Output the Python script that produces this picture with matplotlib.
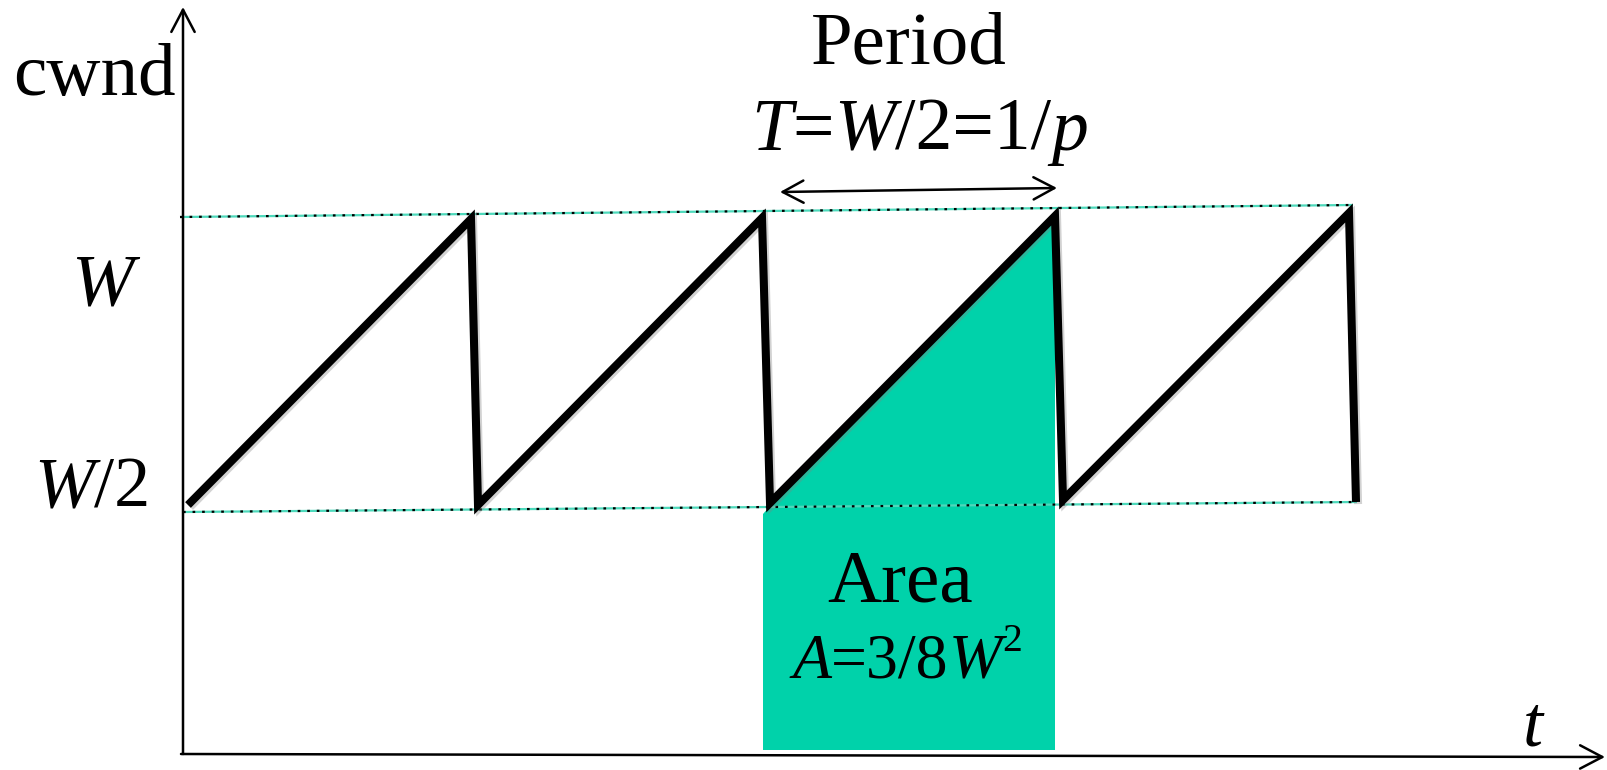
import matplotlib
matplotlib.use("Agg")
import matplotlib.pyplot as plt
import matplotlib.patheffects as pe

plt.rcParams['font.family'] = ['Liberation Serif', 'DejaVu Serif']

# ---- data (t and cwnd in picture units) ----
saw_t = [188, 471, 478, 762, 770, 1055, 1063, 1349, 1356]
saw_cwnd = [265, 551, 265, 552, 267, 554, 270, 557, 268]

area_t = [763, 763, 770, 1053, 1055, 1055]
area_cwnd = [20, 256, 264, 550, 545, 20]

ref_W_t = [180, 1353]
ref_W_cwnd = [553, 565]
ref_half_t = [183, 1357]
ref_half_cwnd = [258, 268]

period_t = [780, 1057]
period_cwnd = [578, 582]

y_axis_t = [183, 183]
y_axis_cwnd = [16, 763]
x_axis_t = [181, 1605]
x_axis_cwnd = [16, 13]

TEAL = '#00d2aa'
DOT_TEAL = '#4dd9bb'

fig = plt.figure(figsize=(16.07, 7.70), dpi=100)
ax = fig.add_axes([0, 0, 1, 1])
ax.set_xlim(0, 1607)
ax.set_ylim(0, 770)
ax.axis('off')

# area fill
ax.fill(area_t, area_cwnd, color=TEAL, lw=0, zorder=1)

# reference levels (teal line with black dots)
for tt, cc in [(ref_W_t, ref_W_cwnd), (ref_half_t, ref_half_cwnd)]:
    ax.plot(tt, cc, color=DOT_TEAL, lw=1.6, zorder=2, solid_capstyle='butt')
    ax.plot(tt, cc, color='black', lw=1.6, linestyle=(0, (1.2, 3.1)), zorder=2.1,
            dash_capstyle='butt')

# sawtooth
ax.plot(saw_t, saw_cwnd, color='black', lw=5.8, zorder=3,
        solid_joinstyle='miter', solid_capstyle='butt',
        path_effects=[pe.SimpleLineShadow(offset=(1.5, -1.5), shadow_color='gray', alpha=0.35),
                      pe.Normal()])

# axes arrows
arrow_kw = dict(arrowstyle='->,head_length=0.8,head_width=0.42', lw=1.8, color='black',
                shrinkA=0, shrinkB=0, mutation_scale=20)
ax.annotate('', xy=(y_axis_t[1], y_axis_cwnd[1]), xytext=(y_axis_t[0], y_axis_cwnd[0]),
            arrowprops=arrow_kw, zorder=4)
ax.annotate('', xy=(x_axis_t[1], x_axis_cwnd[1]), xytext=(x_axis_t[0], x_axis_cwnd[0]),
            arrowprops=arrow_kw, zorder=4)

# period arrow
ax.annotate('', xy=(period_t[1], period_cwnd[1]), xytext=(period_t[0], period_cwnd[0]),
            arrowprops=dict(arrowstyle='<->,head_length=0.75,head_width=0.4', lw=1.8,
                            color='black', shrinkA=0, shrinkB=0, mutation_scale=20), zorder=4)


def rich_text(x, y, pieces, size, ha='center', zorder=5):
    """pieces: (string, style, size_scale, raise_in_em)"""
    renderer = fig.canvas.get_renderer()
    texts, widths = [], []
    for s, style, scale, dy in pieces:
        t = ax.text(0, 0, s, fontsize=size * scale, style=style, va='baseline',
                    ha='left', zorder=zorder)
        widths.append(t.get_window_extent(renderer).width)
        texts.append(t)
    total = sum(widths)
    xd, yd = ax.transData.transform((x, y))
    cur = xd - total / 2 if ha == 'center' else xd
    inv = ax.transData.inverted()
    for t, w, (s, style, scale, dy) in zip(texts, widths, pieces):
        t.set_position(inv.transform((cur, yd + dy * size * fig.dpi / 72)))
        cur += w


# texts
ax.text(13, 675, 'cwnd', fontsize=54, ha='left', va='baseline')
ax.text(909, 707, 'Period', fontsize=54, ha='center', va='baseline')
rich_text(920, 620, [('T', 'italic', 1, 0), ('=', 'normal', 1, 0), ('W', 'italic', 1, 0),
                     ('/2=1/', 'normal', 1, 0), ('p', 'italic', 1, 0)], 53)
ax.text(102, 465, 'W', fontsize=54, style='italic', ha='center', va='baseline')
rich_text(92, 263, [('W', 'italic', 1, 0), ('/2', 'normal', 1, 0)], 52)
ax.text(900, 168, 'Area', fontsize=54, ha='center', va='baseline', zorder=5)
rich_text(907, 92, [('A', 'italic', 1, 0), ('=3/8', 'normal', 1, 0), ('W', 'italic', 1, 0),
                    ('2', 'normal', 0.62, 0.42)], 46)
ax.text(1533, 25, 't', fontsize=52, style='italic', ha='center', va='baseline')

fig.savefig('out.png', dpi=100)
